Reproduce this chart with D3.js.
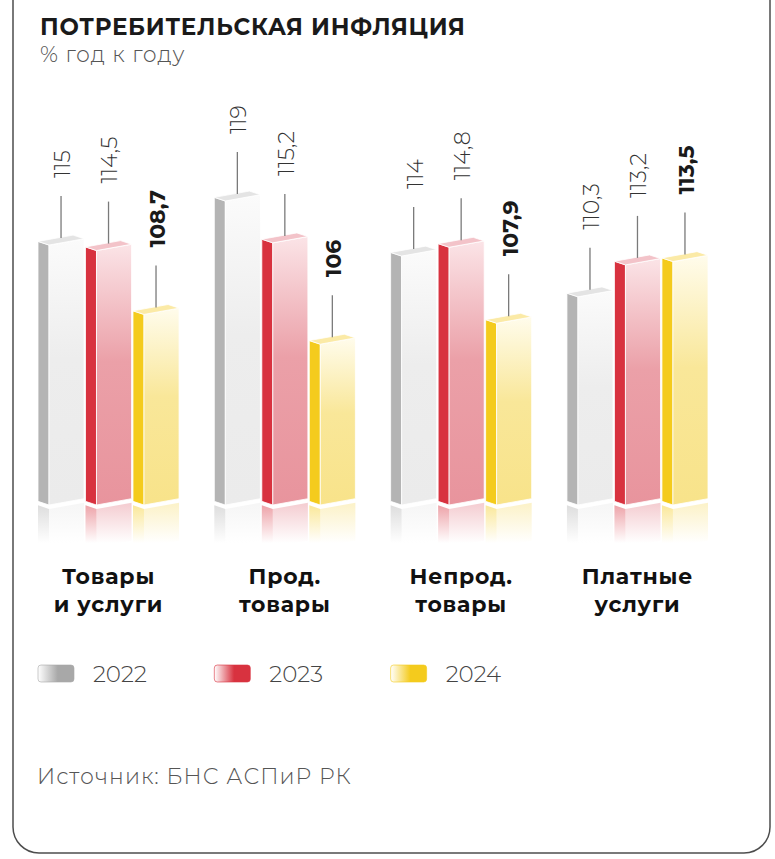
<!DOCTYPE html>
<html>
<head>
<meta charset="utf-8">
<script src="https://cdn.jsdelivr.net/npm/d3@7"></script>
<style>
  body { margin: 0; background: #fff; }
  svg { display: block; font-family: Montserrat, Inter, sans-serif; }
</style>
</head>
<body>
<div id="chart"></div>
<script>
/* Data */
const categories = [["Товары", "и услуги"], ["Прод.", "товары"], ["Непрод.", "товары"], ["Платные", "услуги"]];
const years = ["2022", "2023", "2024"];
const values2022 = [115, 119, 114, 110.3];
const values2023 = [114.5, 115.2, 114.8, 113.2];
const values2024 = [108.7, 106, 107.9, 113.5];
const yBaseValue = 91.4; // value sitting on the floor line

const width = 775, height = 859;
const floorY = 505;

const colors = {
  "2022": { side: "#b4b4b4", top: "#e4e4e4", frontTop: "#fbfbfb", frontBottom: "#ebebeb", swatch: "#a8a8a8" },
  "2023": { side: "#d8323f", top: "#f3c3c9", frontTop: "#fbe4e7", frontBottom: "#e8949d", swatch: "#d8323f" },
  "2024": { side: "#f4cb1d", top: "#fbeaa6", frontTop: "#fffcec", frontBottom: "#f8e38a", swatch: "#f4cb1d" }
};

const seriesValues = [values2022, values2023, values2024];
const rows = [];
categories.forEach((c, i) => {
  years.forEach((y, j) => rows.push({ cat: i, year: y, value: seriesValues[j][i], bold: y === "2024" }));
});

const svg = d3.select("#chart").append("svg").attr("width", width).attr("height", height);
const defs = svg.append("defs");

// card
svg.append("rect")
  .attr("x", 13).attr("y", -40)
  .attr("width", 757).attr("height", 893)
  .attr("rx", 26)
  .attr("fill", "#fff")
  .attr("stroke", "#4d4d4d")
  .attr("stroke-width", 1.5);

// gradients
years.forEach(y => {
  const c = colors[y];
  const g = defs.append("linearGradient").attr("id", "front" + y).attr("x1", 0).attr("y1", 0).attr("x2", 0).attr("y2", 1);
  g.append("stop").attr("offset", 0).attr("stop-color", c.frontTop);
  g.append("stop").attr("offset", 0.45).attr("stop-color", d3.interpolateRgb(c.frontTop, c.frontBottom)(0.85));
  g.append("stop").attr("offset", 1).attr("stop-color", c.frontBottom);

  ["side", "frontBottom"].forEach(k => {
    const r = defs.append("linearGradient").attr("id", "refl" + k + y)
      .attr("gradientUnits", "userSpaceOnUse")
      .attr("x1", 0).attr("y1", floorY).attr("x2", 0).attr("y2", floorY + 38);
    r.append("stop").attr("offset", 0).attr("stop-color", c[k]).attr("stop-opacity", 0.45);
    r.append("stop").attr("offset", 1).attr("stop-color", c[k]).attr("stop-opacity", 0);
  });

  const s = defs.append("linearGradient").attr("id", "swatch" + y).attr("x1", 0).attr("y1", 0).attr("x2", 1).attr("y2", 0);
  s.append("stop").attr("offset", 0).attr("stop-color", "#fff");
  s.append("stop").attr("offset", 0.55).attr("stop-color", c.swatch);
  s.append("stop").attr("offset", 1).attr("stop-color", c.swatch);
});

/* Scales */
const x0 = d3.scaleBand()
  .domain(d3.range(categories.length))
  .range([38, 708])
  .paddingInner(0.2)
  .paddingOuter(0);

const x1 = d3.scaleBand()
  .domain(years)
  .range([0, x0.bandwidth()])
  .paddingInner(0.03)
  .paddingOuter(0);

const yScale = d3.scaleLinear()
  .domain([yBaseValue, 119])
  .range([floorY, 201]);

const sideW = 11, ks = 0.33, kf = 0.18;

function geom(d) {
  const bx = x0(d.cat) + x1(d.year);
  const xf = bx + sideW;
  const w = x1.bandwidth() - sideW;
  const y0 = yScale(d.value);
  return { bx, xf, w, y0 };
}
const pts = a => a.map(p => p.join(",")).join(" ");

const bars = svg.append("g").selectAll("g").data(rows).enter().append("g");

// reflections
const gap = 4, reflLen = 38;
bars.append("polygon")
  .attr("points", d => {
    const g = geom(d);
    return pts([[g.bx, floorY - sideW * ks + gap], [g.xf, floorY + gap], [g.xf, floorY + gap + reflLen], [g.bx, floorY - sideW * ks + gap + reflLen]]);
  })
  .attr("fill", d => `url(#reflside${d.year})`);
bars.append("polygon")
  .attr("points", d => {
    const g = geom(d);
    return pts([[g.xf, floorY + gap], [g.xf + g.w, floorY - g.w * kf + gap], [g.xf + g.w, floorY - g.w * kf + gap + reflLen], [g.xf, floorY + gap + reflLen]]);
  })
  .attr("fill", d => `url(#reflfrontBottom${d.year})`);

// side face
bars.append("polygon")
  .attr("points", d => {
    const g = geom(d);
    return pts([[g.bx, g.y0 - sideW * ks], [g.xf, g.y0], [g.xf, floorY], [g.bx, floorY - sideW * ks]]);
  })
  .attr("fill", d => colors[d.year].side)
  .attr("stroke", "#fff").attr("stroke-width", 0.8);

// front face
bars.append("polygon")
  .attr("points", d => {
    const g = geom(d);
    return pts([[g.xf, g.y0], [g.xf + g.w, g.y0 - g.w * kf], [g.xf + g.w, floorY - g.w * kf], [g.xf, floorY]]);
  })
  .attr("fill", d => `url(#front${d.year})`)
  .attr("stroke", "#fff").attr("stroke-width", 0.8);

// top face
bars.append("polygon")
  .attr("points", d => {
    const g = geom(d);
    return pts([[g.bx, g.y0 - sideW * ks], [g.xf, g.y0], [g.xf + g.w, g.y0 - g.w * kf], [g.xf + g.w - sideW, g.y0 - g.w * kf - sideW * ks]]);
  })
  .attr("fill", d => colors[d.year].top)
  .attr("stroke", "#fff").attr("stroke-width", 0.8);

// leader lines and value labels
const lineLen = 42, labelGap = 18;
function topCenter(d) {
  const g = geom(d);
  return [g.xf + (g.w - sideW) / 2, g.y0 - (sideW * ks + g.w * kf) / 2];
}
bars.append("line")
  .attr("x1", d => topCenter(d)[0]).attr("x2", d => topCenter(d)[0])
  .attr("y1", d => topCenter(d)[1] - 2)
  .attr("y2", d => topCenter(d)[1] - 2 - lineLen)
  .attr("stroke", "#7a7a7a").attr("stroke-width", 1.3);

bars.append("text")
  .attr("transform", d => {
    const [cx, cy] = topCenter(d);
    return `translate(${cx + 1},${cy - 2 - lineLen - labelGap}) rotate(-90)`;
  })
  .attr("dy", "0.36em")
  .attr("text-anchor", "start")
  .style("font-size", "22px")
  .style("font-weight", d => d.bold ? 700 : 300)
  .attr("fill", d => d.bold ? "#1a1a1a" : "#333")
  .text(d => String(d.value).replace(".", ","));

// category labels
const catG = svg.append("g").selectAll("text").data(categories).enter().append("text")
  .attr("text-anchor", "middle")
  .attr("x", (d, i) => x0(i) + x0.bandwidth() / 2)
  .attr("y", 584)
  .style("font-size", "22px")
  .style("font-weight", 700)
  .style("letter-spacing", "0.8px")
  .attr("fill", "#111");
catG.selectAll("tspan").data(d => d).enter().append("tspan")
  .attr("x", function () { return d3.select(this.parentNode).attr("x"); })
  .attr("dy", (d, i) => i === 0 ? 0 : 28)
  .text(d => d);

// legend
const legend = svg.append("g").selectAll("g").data(years).enter().append("g")
  .attr("transform", (d, i) => `translate(${x0(i)},665)`);
legend.append("rect")
  .attr("width", 36).attr("height", 17).attr("rx", 3)
  .attr("fill", d => `url(#swatch${d})`)
  .attr("stroke", d => colors[d].swatch).attr("stroke-opacity", 0.6).attr("stroke-width", 1);
legend.append("text")
  .attr("x", 55).attr("y", 17)
  .style("font-size", "23px")
  .style("font-weight", 300)
  .attr("fill", "#444")
  .text(d => d);

// title
svg.append("text")
  .attr("x", 40).attr("y", 35)
  .style("font-size", "23px")
  .style("font-weight", 700)
  .style("letter-spacing", "0.75px")
  .attr("fill", "#1a1a1a")
  .text("ПОТРЕБИТЕЛЬСКАЯ ИНФЛЯЦИЯ");
svg.append("text")
  .attr("x", 40).attr("y", 62)
  .style("font-size", "22px")
  .style("font-weight", 300)
  .style("letter-spacing", "0.9px")
  .attr("fill", "#555")
  .text("% год к году");

// source
svg.append("text")
  .attr("x", 37).attr("y", 784)
  .style("font-size", "22px")
  .style("font-weight", 300)
  .style("letter-spacing", "1.1px")
  .attr("fill", "#555")
  .text("Источник: БНС АСПиР РК");
</script>
</body>
</html>
